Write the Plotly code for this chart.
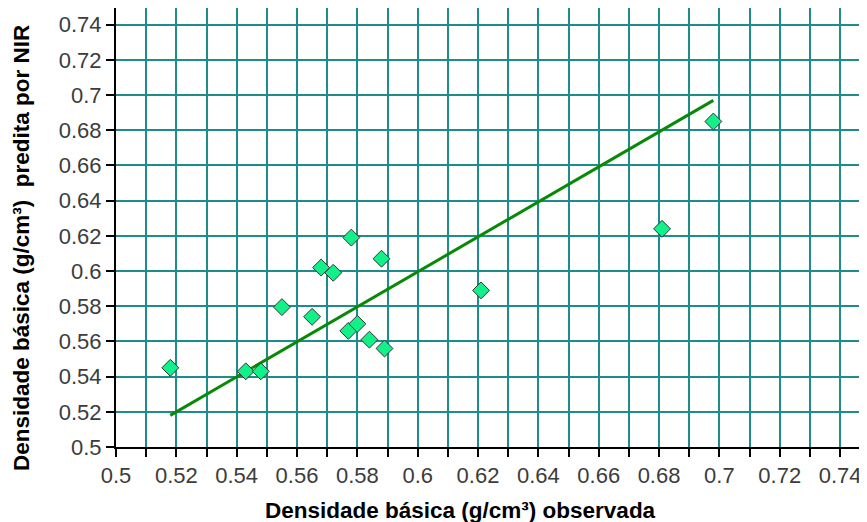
import plotly.graph_objects as go

# Observed vs predicted basic density
observada = [0.518, 0.543, 0.548, 0.555, 0.565, 0.568, 0.572, 0.578, 0.577, 0.580, 0.584, 0.588, 0.589, 0.621, 0.681, 0.698]
predita   = [0.545, 0.543, 0.543, 0.5795, 0.574, 0.602, 0.599, 0.619, 0.566, 0.570, 0.561, 0.607, 0.556, 0.589, 0.624, 0.685]

# Trend line endpoints
linha_x = [0.518, 0.698]
linha_y = [0.518, 0.697]

tick_vals = [0.5, 0.52, 0.54, 0.56, 0.58, 0.6, 0.62, 0.64, 0.66, 0.68, 0.7, 0.72, 0.74]
tick_text = ["0.5", "0.52", "0.54", "0.56", "0.58", "0.6", "0.62", "0.64", "0.66", "0.68", "0.7", "0.72", "0.74"]

grid_color = "#1e8c8c"
# page has an 8px body margin, so the figure is sized/offset to compensate
OFF = 8
W, H = 867 - OFF, 522 - OFF
L, R, T, B = 116 - OFF, 1, 0, 75
PW, PH = W - L - R, H - T - B

fig = go.Figure()
fig.add_trace(go.Scatter(
    x=linha_x, y=linha_y, mode="lines",
    line=dict(color="#088a08", width=3), showlegend=False, hoverinfo="skip"))
fig.add_trace(go.Scatter(
    x=observada, y=predita, mode="markers",
    marker=dict(symbol="diamond", size=13, color="#12f08a",
                line=dict(color="#333333", width=1)),
    showlegend=False))

tickfont = dict(family="Liberation Sans, Arial, sans-serif", size=22, color="#3c3c3c")
titlefont = dict(family="Liberation Sans, Arial, sans-serif", size=22.5, color="black", weight="bold")

fig.update_layout(
    width=W, height=H,
    margin=dict(l=L, r=R, t=T, b=B, autoexpand=False),
    plot_bgcolor="white", paper_bgcolor="white",
    xaxis=dict(
        range=[0.5, 0.7486], tickvals=tick_vals, ticktext=tick_text,
        ticks="outside", ticklen=8, tickcolor="black", tickwidth=2,
        showgrid=True, gridcolor=grid_color, gridwidth=2,
        minor=dict(dtick=0.01, tick0=0.5, showgrid=True, gridcolor=grid_color, gridwidth=2,
                   ticks="outside", ticklen=8, tickcolor="black", tickwidth=2),
        showline=True, linecolor="black", linewidth=2, mirror=True,
        zeroline=False, tickfont=tickfont),
    yaxis=dict(
        range=[0.5, 0.7495], tickvals=tick_vals, ticktext=tick_text,
        ticks="outside", ticklen=8, tickcolor="black", tickwidth=2,
        showgrid=True, gridcolor=grid_color, gridwidth=2,
        showline=True, linecolor="black", linewidth=2, mirror=False,
        zeroline=False, tickfont=tickfont),
    annotations=[
        dict(text="Densidade básica (g/cm³) observada", xref="paper", yref="paper",
             x=(460 - OFF - L) / PW, y=-(510 - 447) / PH, xanchor="center", yanchor="middle",
             showarrow=False, font=titlefont),
        dict(text="Densidade básica (g/cm³)  predita por NIR", xref="paper", yref="paper",
             x=-(116 - 21) / PW, y=(447 - 248) / PH, xanchor="center", yanchor="middle", textangle=-90,
             showarrow=False, font=titlefont),
    ],
)

fig.write_html("out.html")
